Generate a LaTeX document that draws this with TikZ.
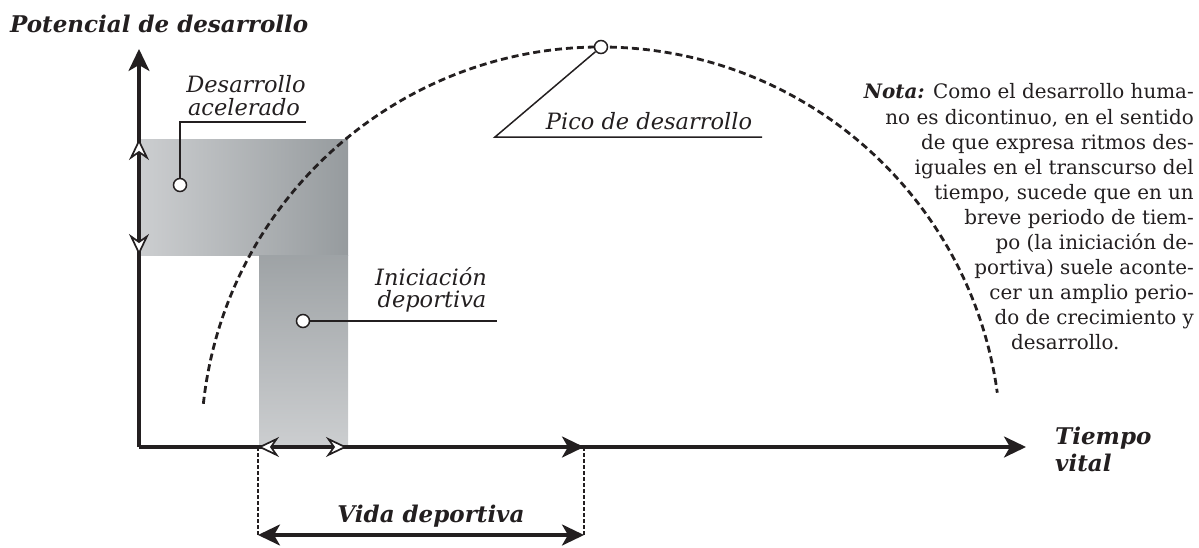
\documentclass[tikz,border=0pt]{standalone}
\usepackage{fontspec}
\setmainfont{DejaVu Serif}
\usetikzlibrary{arrows.meta}
\definecolor{grylt}{RGB}{204,206,208}
\definecolor{grydk}{RGB}{150,155,158}
\definecolor{ink}{RGB}{35,31,32}

\begin{document}
\begin{tikzpicture}[x=1pt,y=1pt,color=ink,
  axis/.style={line width=3.2pt},
  fillarr/.style={-{Stealth[length=22pt,width=21pt,inset=6pt]}},
  hollow/.style={line width=3.2pt,-{Stealth[length=21pt,width=20pt,inset=7pt,fill=white,line width=1.7pt]}},
  curve/.style={line width=2.8pt,dash pattern=on 7pt off 4pt},
  guide/.style={line width=1.6pt,dash pattern=on 4pt off 2pt},
  dot/.style={circle,draw,fill=white,line width=1.5pt,inner sep=0pt,minimum size=13pt},
  lead/.style={line width=1.5pt},
  lbl/.style={font=\fontsize{22.5}{26}\selectfont\itshape,inner sep=0pt},
  ttl/.style={font=\fontsize{23}{27}\selectfont\bfseries\itshape,inner sep=0pt},
  note/.style={font=\fontsize{19.9}{25}\selectfont,inner sep=0pt}]
\useasboundingbox (-139,-100) rectangle (1060,447);

\coordinate (O) at (0,0);
\coordinate (Ytip) at (0,398);
\coordinate (Xtip) at (887,0);
\coordinate (C) at (462,0);

% zonas sombreadas
\shade[left color=grylt,right color=grydk] (0,192) rectangle (209,308);
\shade[top color=grydk!85!grylt,bottom color=grylt] (120,0) rectangle (209,192);

% ejes
\draw[axis,fillarr] (O) -- (Ytip);
\draw[axis,fillarr] (O) -- (Xtip);
\draw[hollow] (0,280) -- (0,308);
\draw[hollow] (0,220) -- (0,192);
\draw[hollow] (148,0) -- (119,0);
\draw[hollow] (180,0) -- (208,0);
\draw[axis,fillarr] (400,0) -- (445,0);

% vida deportiva
\coordinate (V1) at (119,0);
\coordinate (V2) at (445,0);
\coordinate (W1) at (119,-88);
\coordinate (W2) at (445,-88);
\draw[guide] (V1) -- (W1);
\draw[guide] (V2) -- (W2);
\draw[axis,{Stealth[length=22pt,width=21pt,inset=6pt]}-{Stealth[length=22pt,width=21pt,inset=6pt]}] (W1) -- (W2);
\node[ttl,anchor=base] (vida) at (292,-75) {Vida deportiva};

% curva de desarrollo
\draw[curve] ([shift={(173.8:400)}]C) arc[start angle=173.8,end angle=7.8,radius=400];

% rotulos
\node[dot] (peak) at ([shift={(90:400)}]C) {};
\coordinate (pk1) at (356,310);
\coordinate (pk2) at (623,310);
\draw[lead] (peak) -- (pk1) -- (pk2);
\node[lbl,anchor=base] (pico) at (510,318) {Pico de desarrollo};

\node[dot] (acel) at (41,262) {};
\coordinate (ac1) at (41,325);
\coordinate (ac2) at (167,325);
\draw[lead] (acel) -- (ac1) -- (ac2);
\node[lbl,anchor=base] (desa) at (107,354) {Desarrollo};
\node[lbl,anchor=base] (acelt) at (105,331) {acelerado};

\node[dot] (inic) at (164,126) {};
\coordinate (in1) at (358,126);
\draw[lead] (inic) -- (in1);
\node[lbl,anchor=base] (init) at (292,162) {Iniciación};
\node[lbl,anchor=base] (dept) at (293,140) {deportiva};

\node[ttl,anchor=base west] (pot) at (-129,414) {Potencial de desarrollo};
\node[ttl,anchor=base west] (tiem) at (916,3) {Tiempo};
\node[ttl,anchor=base west] (vit) at (916,-24) {vital};

% nota
\foreach \k/\txt in {0/{\textbf{\textit{Nota:}} Como el desarrollo huma-},
  1/{no es dicontinuo, en el sentido},
  2/{de que expresa ritmos des-},
  3/{iguales en el transcurso del},
  4/{tiempo, sucede que en un},
  5/{breve periodo de tiem-},
  6/{po (la iniciación de-},
  7/{portiva) suele aconte-},
  8/{cer un amplio perio-},
  9/{do de crecimiento y}}
  \node[note,anchor=base east] (n\k) at (1055,348-25*\k) {\txt};
\node[note,anchor=base west] (n10) at (872,98) {desarrollo.};
\end{tikzpicture}
\end{document}
